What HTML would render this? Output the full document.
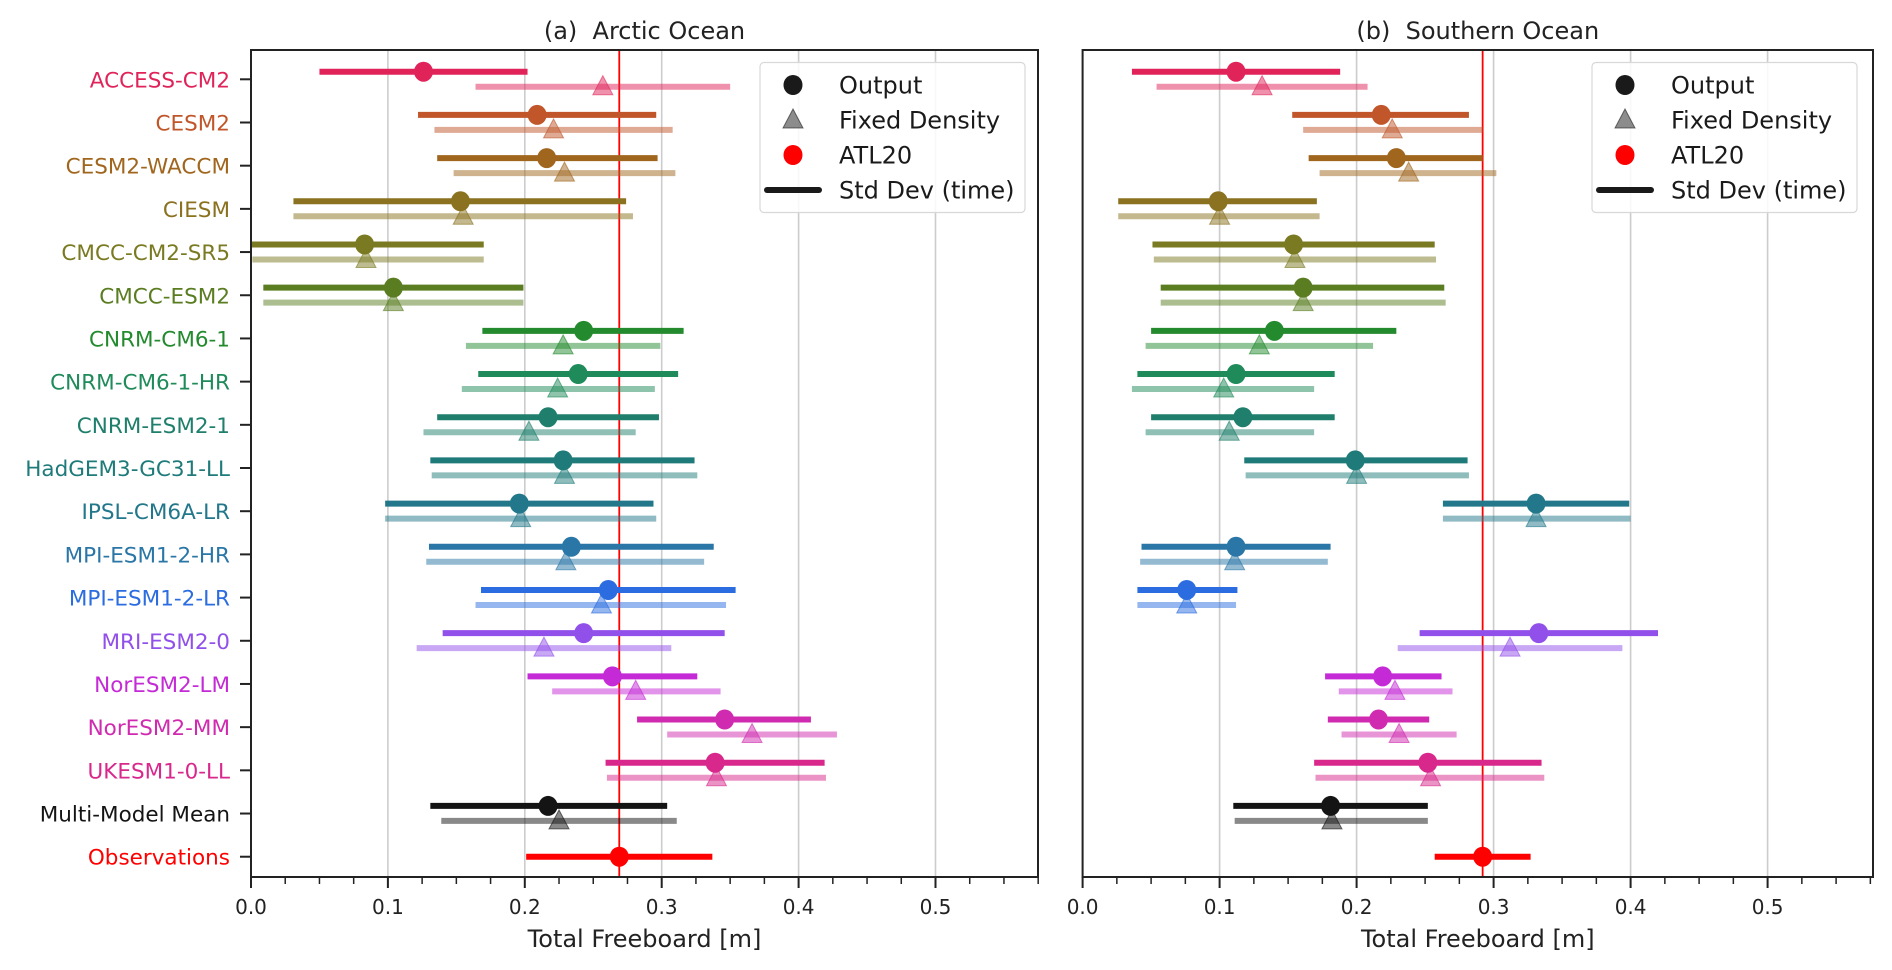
<!DOCTYPE html>
<html><head><meta charset="utf-8"><style>
html,body{margin:0;padding:0;background:#fff}
svg{display:block}
text{font-family:"DejaVu Sans","Liberation Sans",sans-serif;white-space:pre}
</style></head><body>
<svg id="chart" width="1892" height="970" viewBox="0 0 1892 970" xmlns="http://www.w3.org/2000/svg"></svg>
<script>
const models = ["ACCESS-CM2","CESM2","CESM2-WACCM","CIESM","CMCC-CM2-SR5","CMCC-ESM2","CNRM-CM6-1","CNRM-CM6-1-HR","CNRM-ESM2-1","HadGEM3-GC31-LL","IPSL-CM6A-LR","MPI-ESM1-2-HR","MPI-ESM1-2-LR","MRI-ESM2-0","NorESM2-LM","NorESM2-MM","UKESM1-0-LL","Multi-Model Mean","Observations"];
const colors = ["#e0245a","#c0562a","#a0661e","#8a7220","#7a7a22","#5a7d22","#238a2e","#1f8a5a","#1f7f6c","#1f7b7a","#22778a","#2a76a6","#2b6de0","#9150ea","#c42ad6","#d02bb0","#d8288c","#141414","#ff0000"];
const xTicks = [0.0,0.1,0.2,0.3,0.4,0.5];
const xTickLabels = ["0.0","0.1","0.2","0.3","0.4","0.5"];
// Arctic
const arcOutMean = [.126,.209,.216,.153,.083,.104,.243,.239,.217,.228,.196,.234,.261,.243,.264,.346,.339,.217,.269];
const arcOutLo   = [.050,.122,.136,.031,.000,.009,.169,.166,.136,.131,.098,.130,.168,.140,.202,.282,.259,.131,.201];
const arcOutHi   = [.202,.296,.297,.274,.170,.199,.316,.312,.298,.324,.294,.338,.354,.346,.326,.409,.419,.304,.337];
const arcFixMean = [.257,.221,.229,.155,.084,.104,.228,.224,.203,.229,.197,.230,.256,.214,.281,.366,.340,.225,null];
const arcFixLo   = [.164,.134,.148,.031,.001,.009,.157,.154,.126,.132,.098,.128,.164,.121,.220,.304,.260,.139,null];
const arcFixHi   = [.350,.308,.310,.279,.170,.199,.299,.295,.281,.326,.296,.331,.347,.307,.343,.428,.420,.311,null];
const arcAtl20 = 0.269;
// Southern
const souOutMean = [.112,.218,.229,.099,.154,.161,.140,.112,.117,.199,.331,.112,.076,.333,.219,.216,.252,.181,.292];
const souOutLo   = [.036,.153,.165,.026,.051,.057,.050,.040,.050,.118,.263,.043,.040,.246,.177,.179,.169,.110,.257];
const souOutHi   = [.188,.282,.292,.171,.257,.264,.229,.184,.184,.281,.399,.181,.113,.420,.262,.253,.335,.252,.327];
const souFixMean = [.131,.226,.238,.100,.155,.161,.129,.103,.107,.200,.331,.111,.076,.312,.228,.231,.254,.182,null];
const souFixLo   = [.054,.161,.173,.026,.052,.057,.046,.036,.046,.119,.263,.042,.040,.230,.187,.189,.170,.111,null];
const souFixHi   = [.208,.292,.302,.173,.258,.265,.212,.169,.169,.282,.400,.179,.112,.394,.270,.273,.337,.252,null];
const souAtl20 = 0.292;

const NS="http://www.w3.org/2000/svg";
const svg=document.getElementById('chart');
function mk(tag,attrs,parent){const e=document.createElementNS(NS,tag);for(const k in attrs)e.setAttribute(k,attrs[k]);(parent||svg).appendChild(e);return e;}
const TOP=50,BOT=877,ROW0=79.3,ROWSTEP=43.19;
const yRow=i=>ROW0+i*ROWSTEP;

function panel(id,x0,x1,scale,title,om,ol,oh,fm,fl,fh,atl,showY,legX){
  const xs=v=>x0+v*scale;
  const g=mk('g',{});
  
  
  xTicks.forEach(t=>{const l=mk('line',{x1:xs(t),x2:xs(t),y1:TOP,y2:BOT,stroke:'#cccccc','stroke-width':1.6},g);
    });
  for(let k=0;k*0.025<=0.576;k++){const v=k*0.025;const major=(k%4===0);
    const t=mk('line',{x1:xs(v),x2:xs(v),y1:BOT,y2:BOT+(major?11:7),stroke:'#222','stroke-width':major?2:1.5},g);
    }
  xTicks.forEach((t,i)=>{const tx=mk('text',{x:xs(t),y:914,'font-size':20,'text-anchor':'middle',fill:'#222'},g);tx.textContent=xTickLabels[i];
    });
  const xl=mk('text',{x:(x0+x1)/2,y:947,'font-size':24,'text-anchor':'middle',fill:'#222'},g);xl.textContent='Total Freeboard [m]';
  
  const tt=mk('text',{x:(x0+x1)/2,y:39,'font-size':24,'text-anchor':'middle',fill:'#222'},g);tt.textContent=title;
  
  if(showY){models.forEach((m,i)=>{
    const tk=mk('line',{x1:x0-11,x2:x0,y1:yRow(i),y2:yRow(i),stroke:'#222','stroke-width':2},g);
    
    const lb=mk('text',{x:x0-21,y:yRow(i)+8,'font-size':21.5,'text-anchor':'end',fill:colors[i]},g);lb.textContent=m;
    });}
  const rl=mk('line',{x1:xs(atl),x2:xs(atl),y1:TOP,y2:BOT,stroke:'#ff0000','stroke-width':1.8},g);
  
  models.forEach((m,i)=>{
    const y=yRow(i),c=colors[i];
    if(fm[i]!==null){
      const fy=y+7.4;
      const fl2=mk('line',{x1:xs(fl[i]),x2:xs(fh[i]),y1:fy,y2:fy,stroke:c,'stroke-opacity':0.5,'stroke-width':6},g);
      
      const cx=xs(fm[i]);
      const tr=mk('polygon',{points:`${cx},${fy-11} ${cx-10},${fy+8} ${cx+10},${fy+8}`,fill:c,'fill-opacity':0.5,stroke:c,'stroke-opacity':0.6,'stroke-width':1},g);
      
    }
    const oy=(fm[i]===null)?y:y-7.6;
    const ol2=mk('line',{x1:xs(ol[i]),x2:xs(oh[i]),y1:oy,y2:oy,stroke:c,'stroke-width':6},g);
    
    const ci=mk('ellipse',{cx:xs(om[i]),cy:oy,rx:9.5,ry:10,fill:c},g);
    
  });
  const fr=mk('rect',{x:x0,y:TOP,width:x1-x0,height:BOT-TOP,fill:'none',stroke:'#222','stroke-width':2},g);
  
  const lg=mk('g',{},g);
  
  mk('rect',{x:legX,y:62.5,width:265,height:150,rx:4,fill:'#fff','fill-opacity':0.85,stroke:'#d8d8d8','stroke-width':1.2},lg);
  const mx=legX+33,tx=legX+79;
  mk('ellipse',{cx:mx,cy:85,rx:9.5,ry:10,fill:'#1a1a1a'},lg);
  mk('polygon',{points:`${mx},${109} ${mx-10},${128} ${mx+10},${128}`,fill:'#1a1a1a','fill-opacity':0.5,stroke:'#1a1a1a','stroke-opacity':0.6},lg);
  mk('ellipse',{cx:mx,cy:155,rx:9.5,ry:10,fill:'#ff0000'},lg);
  mk('line',{x1:mx-26,x2:mx+26,y1:190,y2:190,stroke:'#1a1a1a','stroke-width':6,'stroke-linecap':'round'},lg);
  [["Output",85],["Fixed Density",120],["ATL20",155],["Std Dev (time)",190]].forEach(([s,yy])=>{
    const t=mk('text',{x:tx,y:yy+8.5,'font-size':24,fill:'#1a1a1a'},lg);t.textContent=s;
    });
}
panel('arctic',251,1038,1369,'(a)  Arctic Ocean',arcOutMean,arcOutLo,arcOutHi,arcFixMean,arcFixLo,arcFixHi,arcAtl20,true,760);
panel('southern',1082.6,1873,1370,'(b)  Southern Ocean',souOutMean,souOutLo,souOutHi,souFixMean,souFixLo,souFixHi,souAtl20,false,1592);
</script>
</body></html>
